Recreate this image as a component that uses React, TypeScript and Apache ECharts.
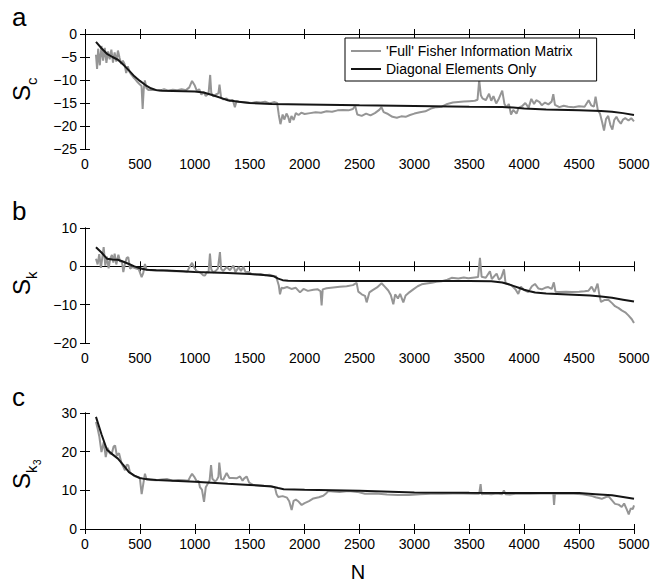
import React, { useEffect, useRef } from "react";
import * as echarts from "echarts";

// ---- data: [N, value] ----
const fullA: number[][] = [[100,-4.5],[110,-7.6],[120,-3.2],[135,-6.8],[150,-2.6],[165,-5.8],[180,-3.0],[195,-6.3],[210,-3.8],[225,-5.5],[240,-3.4],[255,-6.2],[270,-4.0],[285,-6.0],[300,-3.6],[315,-5.2],[330,-6.5],[345,-5.8],[360,-6.5],[375,-8.5],[390,-7.0],[405,-8.2],[420,-8.8],[440,-9.4],[460,-9.9],[480,-10.5],[500,-11.0],[515,-11.3],[525,-16.3],[535,-12.0],[545,-10.1],[560,-11.8],[580,-12.2],[620,-12.1],[680,-12.3],[720,-12.0],[760,-12.3],[800,-12.1],[840,-12.2],[880,-12.0],[920,-12.2],[950,-11.6],[975,-10.2],[1000,-11.2],[1020,-12.4],[1040,-12.0],[1060,-13.2],[1080,-12.6],[1100,-13.5],[1125,-13.0],[1140,-8.9],[1150,-12.8],[1170,-13.6],[1195,-13.1],[1215,-12.9],[1225,-11.0],[1240,-13.9],[1260,-14.2],[1290,-14.0],[1320,-14.6],[1345,-14.3],[1365,-15.9],[1380,-14.6],[1420,-14.8],[1470,-14.9],[1520,-15.0],[1560,-14.8],[1600,-14.9],[1640,-14.7],[1680,-15.1],[1720,-14.8],[1750,-15.0],[1765,-17.6],[1780,-19.6],[1800,-17.5],[1815,-18.6],[1835,-17.3],[1850,-18.0],[1865,-19.3],[1880,-17.8],[1900,-18.7],[1920,-17.2],[1945,-17.6],[1970,-17.1],[2000,-17.4],[2050,-17.2],[2100,-17.0],[2150,-17.1],[2200,-16.8],[2250,-16.9],[2300,-16.6],[2350,-16.5],[2400,-16.6],[2440,-16.3],[2460,-15.6],[2480,-17.5],[2520,-17.8],[2560,-17.3],[2600,-17.7],[2640,-17.2],[2680,-16.5],[2700,-15.9],[2720,-17.0],[2760,-17.4],[2800,-18.0],[2840,-18.2],[2880,-17.9],[2920,-18.0],[2960,-17.6],[3000,-17.3],[3050,-17.0],[3100,-16.8],[3150,-16.2],[3200,-15.9],[3250,-15.8],[3300,-15.2],[3350,-14.9],[3400,-14.8],[3450,-14.7],[3500,-14.6],[3550,-14.5],[3575,-14.3],[3590,-10.0],[3605,-13.3],[3620,-14.0],[3650,-14.4],[3680,-13.0],[3700,-14.5],[3720,-13.5],[3745,-15.1],[3770,-14.0],[3800,-12.3],[3820,-15.2],[3840,-16.0],[3860,-15.2],[3880,-17.5],[3900,-16.5],[3930,-17.3],[3950,-16.0],[3980,-15.7],[4010,-15.0],[4040,-16.0],[4065,-14.1],[4090,-15.2],[4110,-14.4],[4140,-14.8],[4160,-15.5],[4190,-14.9],[4220,-15.3],[4250,-14.7],[4265,-13.1],[4280,-15.4],[4320,-15.9],[4360,-15.6],[4400,-15.8],[4450,-15.9],[4500,-15.7],[4550,-15.8],[4587,-14.4],[4610,-15.5],[4635,-15.8],[4650,-13.6],[4670,-16.5],[4690,-17.3],[4710,-19.2],[4727,-21.0],[4745,-18.5],[4765,-17.8],[4785,-19.8],[4803,-20.8],[4820,-18.7],[4840,-18.0],[4860,-18.9],[4880,-19.5],[4900,-18.6],[4920,-18.3],[4950,-18.8],[4975,-18.3],[5000,-19.0]];
const diagA: number[][] = [[100,-1.7],[150,-3.1],[200,-4.3],[250,-5.0],[300,-5.6],[350,-6.7],[400,-7.9],[450,-9.2],[500,-10.2],[550,-11.1],[600,-11.8],[650,-12.2],[700,-12.35],[800,-12.4],[900,-12.45],[1000,-12.5],[1080,-12.7],[1150,-13.2],[1200,-13.6],[1250,-14.0],[1300,-14.4],[1400,-14.75],[1500,-15.0],[1700,-15.2],[2000,-15.3],[2500,-15.5],[3000,-15.65],[3500,-15.8],[3800,-15.85],[3900,-16.0],[4000,-16.2],[4200,-16.4],[4500,-16.6],[4700,-16.75],[4800,-16.9],[4900,-17.2],[5000,-17.6]];

const fullB: number[][] = [[100,2.0],[115,0.5],[130,3.2],[145,-0.4],[160,2.8],[170,5.0],[185,0.2],[200,2.5],[215,-0.5],[230,2.0],[245,3.0],[258,1.0],[270,3.3],[285,0.5],[304,3.0],[320,1.2],[335,1.5],[349,-1.5],[365,0.8],[380,2.2],[394,2.4],[410,-0.6],[430,-0.2],[460,-0.5],[490,-0.8],[516,-2.8],[530,-1.8],[546,0.6],[560,-0.8],[600,-1.0],[650,-1.1],[700,-1.0],[760,-1.2],[820,-1.3],[880,-1.2],[930,-1.4],[960,0.2],[975,0.9],[995,-0.4],[1020,-1.3],[1050,-1.6],[1075,-2.3],[1093,-2.4],[1110,-1.5],[1125,-1.6],[1138,3.3],[1150,-0.8],[1169,-1.6],[1190,-1.2],[1210,-0.6],[1229,3.7],[1240,-0.7],[1260,-1.2],[1290,-0.2],[1320,-1.0],[1351,0.2],[1370,-1.5],[1400,-0.2],[1420,-1.2],[1442,-0.1],[1460,-1.4],[1490,-1.5],[1520,-2.0],[1560,-2.1],[1600,-2.0],[1640,-2.3],[1680,-2.2],[1715,-2.5],[1740,-2.6],[1765,-5.0],[1776,-7.3],[1790,-5.6],[1806,-5.7],[1840,-5.4],[1880,-5.9],[1920,-5.6],[1958,-6.8],[1990,-5.9],[2030,-6.4],[2080,-6.1],[2120,-6.0],[2145,-6.5],[2155,-10.2],[2165,-6.0],[2200,-5.7],[2260,-5.5],[2320,-5.3],[2383,-5.2],[2440,-4.9],[2474,-4.3],[2489,-6.6],[2520,-7.3],[2550,-7.7],[2565,-9.4],[2590,-6.8],[2620,-6.2],[2660,-5.5],[2701,-4.4],[2730,-5.3],[2762,-6.3],[2785,-7.5],[2808,-9.9],[2825,-7.3],[2850,-8.4],[2870,-7.2],[2899,-9.4],[2920,-7.6],[2944,-7.0],[2990,-6.0],[3030,-5.2],[3066,-4.7],[3110,-4.5],[3157,-4.3],[3200,-4.0],[3248,-3.9],[3300,-3.5],[3339,-3.0],[3400,-3.2],[3450,-2.9],[3491,-3.1],[3550,-2.9],[3580,-2.8],[3597,2.2],[3612,-2.7],[3650,-3.0],[3688,-1.3],[3705,-3.3],[3730,-2.5],[3749,-1.9],[3770,-3.5],[3790,-3.0],[3816,-0.8],[3830,-4.4],[3860,-4.7],[3886,-5.0],[3920,-6.0],[3946,-7.2],[3970,-5.3],[4000,-6.2],[4038,-6.7],[4070,-5.2],[4098,-4.6],[4130,-5.8],[4160,-6.0],[4190,-5.6],[4219,-5.4],[4250,-5.9],[4270,-4.2],[4285,-6.6],[4320,-6.7],[4380,-6.6],[4432,-6.7],[4500,-6.6],[4550,-6.5],[4584,-6.4],[4614,-5.3],[4640,-6.7],[4668,-4.5],[4685,-7.5],[4699,-9.3],[4730,-8.8],[4766,-8.7],[4800,-9.6],[4827,-10.4],[4860,-10.9],[4888,-11.5],[4920,-12.0],[4949,-12.8],[4980,-13.8],[5000,-14.8]];
const diagB: number[][] = [[100,5.0],[150,3.6],[200,2.0],[250,1.8],[300,1.7],[350,1.2],[400,0.6],[450,0.0],[500,-0.5],[560,-0.9],[650,-1.0],[750,-1.1],[1000,-1.5],[1300,-1.75],[1500,-2.0],[1650,-2.3],[1720,-2.6],[1760,-3.2],[1800,-3.6],[1850,-3.75],[2000,-3.8],[2500,-3.8],[3000,-3.85],[3500,-3.85],[3700,-3.9],[3800,-4.2],[3850,-4.6],[3900,-5.1],[3950,-5.6],[4000,-6.1],[4050,-6.5],[4100,-6.85],[4200,-7.1],[4400,-7.35],[4600,-7.6],[4700,-7.85],[4800,-8.2],[4900,-8.7],[5000,-9.2]];

const fullC: number[][] = [[100,27.7],[115,26.0],[130,24.0],[150,19.9],[171,22.5],[189,18.6],[205,21.0],[225,19.6],[243,19.4],[260,21.3],[274,21.6],[290,19.0],[310,19.6],[334,16.9],[350,16.0],[364,15.2],[380,16.6],[394,16.5],[410,14.6],[425,14.3],[450,13.7],[480,13.4],[500,13.1],[516,9.0],[530,11.5],[546,14.3],[560,12.8],[600,12.7],[650,12.6],[700,12.8],[750,12.9],[800,12.5],[850,12.7],[900,12.6],[940,12.5],[960,13.6],[975,14.3],[995,13.5],[1015,12.5],[1035,12.4],[1047,10.8],[1065,10.2],[1084,7.0],[1100,10.8],[1120,11.8],[1135,12.6],[1148,16.5],[1160,13.0],[1185,12.3],[1200,12.7],[1215,13.5],[1223,17.2],[1240,12.9],[1260,12.8],[1290,14.5],[1315,13.2],[1345,13.2],[1380,13.1],[1412,13.6],[1435,12.5],[1450,13.1],[1472,13.6],[1495,12.0],[1530,11.4],[1580,11.3],[1630,11.2],[1690,11.1],[1730,10.7],[1745,9.0],[1760,8.3],[1800,8.5],[1840,8.1],[1860,7.2],[1882,4.9],[1900,7.3],[1920,7.6],[1945,7.1],[1973,6.2],[2000,6.7],[2040,7.2],[2080,7.9],[2130,8.2],[2170,8.6],[2195,9.2],[2216,9.8],[2260,9.7],[2320,9.6],[2400,9.8],[2480,9.6],[2550,9.1],[2650,9.2],[2750,8.9],[2850,8.8],[2950,8.8],[3050,9.0],[3150,9.1],[3250,9.1],[3350,9.2],[3450,9.2],[3550,9.1],[3590,9.1],[3603,11.6],[3612,9.0],[3650,9.1],[3700,9.0],[3750,9.2],[3800,9.0],[3815,10.0],[3830,9.0],[3870,8.9],[3920,9.1],[3970,9.2],[4050,9.1],[4150,9.2],[4250,9.2],[4265,9.1],[4272,6.2],[4280,9.2],[4350,9.1],[4450,9.1],[4530,9.0],[4584,8.7],[4620,8.5],[4650,8.2],[4680,8.0],[4706,7.8],[4740,8.2],[4766,8.5],[4800,7.4],[4827,6.5],[4860,6.3],[4888,5.7],[4910,6.6],[4935,5.0],[4952,3.8],[4970,5.3],[4990,5.2],[5000,6.1]];
const diagC: number[][] = [[100,29.0],[150,24.5],[200,20.5],[250,19.3],[300,18.2],[350,16.5],[400,14.7],[450,13.8],[500,13.2],[550,12.9],[650,12.7],[800,12.5],[1000,12.2],[1300,11.7],[1500,11.4],[1700,11.0],[1760,10.6],[1810,10.3],[2000,10.15],[2500,9.9],[3000,9.45],[3500,9.35],[4000,9.3],[4500,9.3],[4650,9.0],[4800,8.7],[4900,8.3],[5000,7.8]];

const seriesNames = ["'Full' Fisher Information Matrix", "Diagonal Elements Only"];
const panelLetters = ["a", "b", "c"];
const yRanges = [[-25, 0, 5], [-20, 10, 10], [0, 30, 10]];
const xRange = [0, 5000, 500];
const xName = "N";
const subLabels = [["c", ""], ["k", ""], ["k", "3"]];

const FONT = "'Liberation Sans', Arial, Helvetica, sans-serif";
const GRAY = "#959595";
const BLACK = "#151515";

const fmt = (v: number) => (v < 0 ? "\u2212" + Math.abs(v) : String(v));

export default function App() {
  const ref = useRef<HTMLDivElement>(null);
  useEffect(() => {
    if (!ref.current) return;
    const chart = echarts.init(ref.current, null, { renderer: "svg" });
    const fulls = [fullA, fullB, fullC];
    const diags = [diagA, diagB, diagC];
    const tops = [34, 228, 413];
    const heights = [115, 115, 116];
    const grids: any[] = [];
    const xAxes: any[] = [];
    const yAxes: any[] = [];
    const series: any[] = [];
    const axisLine = { show: true, lineStyle: { color: "#000", width: 1 } };
    const tick = { show: true, inside: true, length: 5, lineStyle: { color: "#000", width: 1 } };
    for (let i = 0; i < 3; i++) {
      grids.push({ left: 85, right: 19, top: tops[i], height: heights[i], containLabel: false });
      const [ymin, ymax, yint] = yRanges[i];
      xAxes.push({
        gridIndex: i, type: "value", position: "bottom", min: xRange[0], max: xRange[1], interval: xRange[2],
        axisLine, axisTick: tick, splitLine: { show: false },
        axisLabel: { show: true, margin: 8, fontSize: 14, fontFamily: FONT, color: "#000", formatter: fmt },
      });
      xAxes.push({
        gridIndex: i, type: "value", position: "top", min: xRange[0], max: xRange[1], interval: xRange[2],
        axisLine, axisTick: tick, splitLine: { show: false }, axisLabel: { show: false },
      });
      yAxes.push({
        gridIndex: i, type: "value", position: "left", min: ymin, max: ymax, interval: yint,
        axisLine, axisTick: tick, splitLine: { show: false },
        axisLabel: { show: true, margin: 8, fontSize: 14, fontFamily: FONT, color: "#000", formatter: fmt },
      });
      yAxes.push({
        gridIndex: i, type: "value", position: "right", min: ymin, max: ymax, interval: yint,
        axisLine, axisTick: tick, splitLine: { show: false }, axisLabel: { show: false },
      });
      series.push({
        name: i === 0 ? seriesNames[0] : seriesNames[0] + " " + panelLetters[i],
        type: "line", xAxisIndex: 2 * i, yAxisIndex: 2 * i, data: fulls[i], symbol: "none",
        lineStyle: { color: GRAY, width: 2 }, itemStyle: { color: GRAY }, z: 2,
      });
      series.push({
        name: i === 0 ? seriesNames[1] : seriesNames[1] + " " + panelLetters[i],
        type: "line", xAxisIndex: 2 * i, yAxisIndex: 2 * i, data: diags[i], symbol: "none",
        lineStyle: { color: BLACK, width: 2 }, itemStyle: { color: BLACK }, z: 3,
      });
    }

    const labelBottoms = [101, 295, 489];
    const graphics: any[] = [];
    const letterTops = [4, 198, 384];
    for (let i = 0; i < 3; i++) {
      graphics.push({ type: "text", left: 12, top: letterTops[i], style: { text: panelLetters[i], fontSize: 26, fontFamily: FONT, fill: "#000" } });
      const children: any[] = [
        { type: "text", x: 0, y: 0, style: { text: "S", fontSize: 24, fontFamily: FONT, fill: "#000", align: "left", verticalAlign: "middle" } },
        { type: "text", x: 16, y: 10, style: { text: subLabels[i][0], fontSize: 15, fontFamily: FONT, fill: "#000", align: "left", verticalAlign: "middle" } },
      ];
      if (subLabels[i][1]) {
        children.push({ type: "text", x: 24, y: 16, style: { text: subLabels[i][1], fontSize: 10, fontFamily: FONT, fill: "#000", align: "left", verticalAlign: "middle" } });
      }
      graphics.push({ type: "group", x: 21, y: labelBottoms[i], rotation: Math.PI / 2, children });
    }
    graphics.push({ type: "text", x: 358, y: 572, style: { text: xName, fontSize: 20, fontFamily: FONT, fill: "#000", align: "center", verticalAlign: "middle" } });

    chart.setOption({
      animation: false,
      backgroundColor: "#fff",
      grid: grids,
      xAxis: xAxes,
      yAxis: yAxes,
      series,
      legend: {
        data: seriesNames,
        orient: "vertical",
        left: 345,
        top: 38,
        icon: "rect",
        itemWidth: 30,
        itemHeight: 2,
        itemGap: 4,
        padding: [6, 24, 5, 6],
        borderColor: "#000",
        borderWidth: 1,
        backgroundColor: "#fff",
        selectedMode: false,
        textStyle: { fontSize: 14, fontFamily: FONT, color: "#000" },
        z: 10,
      },
      graphic: graphics,
    });
    return () => chart.dispose();
  }, []);
  return <div ref={ref} style={{ position: "fixed", left: 0, top: 0, width: 653, height: 583, background: "#fff" }} />;
}
